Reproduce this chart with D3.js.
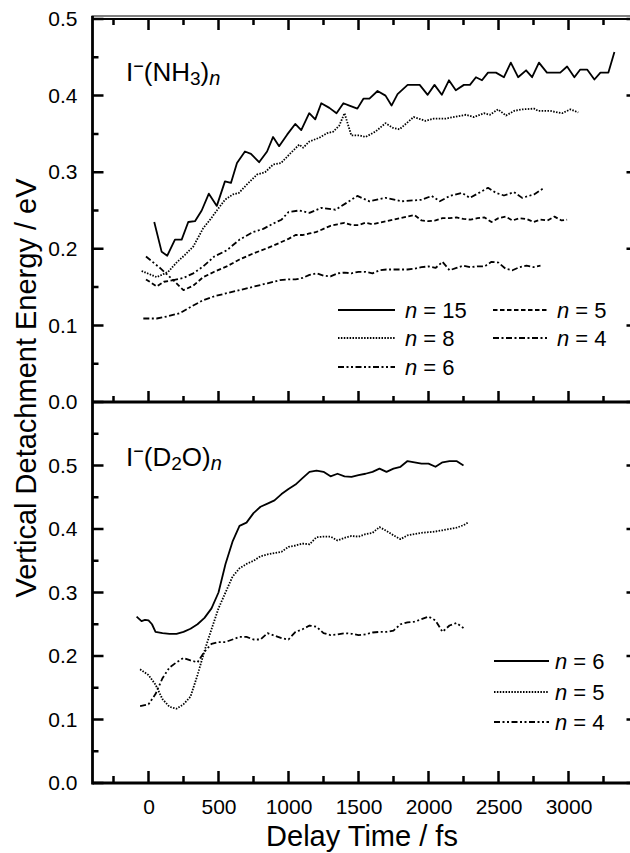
<!DOCTYPE html>
<html>
<head>
<meta charset="utf-8">
<script src="https://cdn.jsdelivr.net/npm/d3@7"></script>
<style>
  body { margin: 0; background: #fff; }
  svg { display: block; font-family: "Liberation Sans", Arial, sans-serif; }
</style>
</head>
<body>
<svg id="chart" width="630" height="853"></svg>
<script>
// ---- data: [delay time (fs), VDE (eV)] ----

// upper panel, I-(NH3)n
const nh3N15 = [[41,0.235],[94,0.196],[134,0.191],[189,0.212],[237,0.212],[284,0.235],[332,0.236],[380,0.25],[431,0.272],[488,0.256],[546,0.288],[589,0.286],[632,0.312],[689,0.327],[732,0.324],[790,0.313],[847,0.327],[890,0.346],[933,0.334],[990,0.349],[1048,0.363],[1091,0.355],[1148,0.377],[1191,0.369],[1234,0.39],[1292,0.384],[1343,0.377],[1392,0.39],[1435,0.387],[1492,0.383],[1535,0.396],[1578,0.396],[1636,0.406],[1693,0.4],[1736,0.387],[1779,0.402],[1851,0.414],[1937,0.414],[1994,0.401],[2043,0.414],[2095,0.401],[2146,0.42],[2195,0.407],[2253,0.414],[2296,0.414],[2339,0.424],[2382,0.42],[2425,0.43],[2482,0.43],[2539,0.424],[2588,0.443],[2640,0.424],[2697,0.433],[2740,0.424],[2789,0.443],[2846,0.43],[2941,0.43],[2990,0.438],[3042,0.424],[3084,0.434],[3133,0.434],[3185,0.421],[3228,0.43],[3285,0.43],[3328,0.457]];

const nh3N8 = [[-49,0.171],[59,0.163],[141,0.17],[200,0.182],[260,0.192],[320,0.203],[391,0.227],[440,0.238],[488,0.25],[546,0.264],[603,0.271],[646,0.273],[703,0.284],[775,0.297],[833,0.3],[890,0.31],[947,0.312],[1005,0.323],[1076,0.336],[1105,0.332],[1148,0.34],[1220,0.345],[1277,0.351],[1320,0.353],[1363,0.361],[1400,0.377],[1449,0.348],[1507,0.348],[1550,0.346],[1621,0.353],[1693,0.364],[1745,0.358],[1793,0.356],[1894,0.372],[1980,0.367],[2037,0.37],[2123,0.37],[2210,0.373],[2267,0.375],[2324,0.372],[2396,0.377],[2439,0.375],[2496,0.382],[2554,0.374],[2611,0.38],[2669,0.382],[2754,0.383],[2783,0.38],[2869,0.38],[2955,0.377],[3013,0.382],[3070,0.378]];

const nh3N6 = [[-18,0.19],[82,0.175],[177,0.159],[250,0.162],[320,0.168],[391,0.177],[470,0.19],[559,0.198],[650,0.212],[749,0.222],[820,0.226],[891,0.233],[950,0.238],[1000,0.248],[1076,0.25],[1150,0.247],[1234,0.2535],[1335,0.251],[1378,0.2557],[1492,0.269],[1578,0.262],[1693,0.2665],[1808,0.262],[1951,0.264],[2023,0.269],[2081,0.262],[2152,0.269],[2238,0.273],[2296,0.2665],[2425,0.2796],[2482,0.273],[2539,0.2696],[2611,0.274],[2669,0.2665],[2754,0.271],[2826,0.2796]];

const nh3N5 = [[-18,0.16],[59,0.151],[110,0.157],[177,0.159],[250,0.146],[320,0.152],[391,0.163],[470,0.17],[559,0.177],[650,0.186],[749,0.194],[850,0.201],[939,0.208],[1000,0.213],[1050,0.218],[1100,0.218],[1150,0.22],[1200,0.222],[1250,0.226],[1300,0.23],[1350,0.232],[1400,0.234],[1450,0.231],[1500,0.231],[1550,0.234],[1600,0.232],[1650,0.234],[1700,0.236],[1750,0.238],[1800,0.24],[1850,0.242],[1900,0.244],[1950,0.237],[2000,0.236],[2050,0.237],[2100,0.24],[2150,0.24],[2200,0.241],[2250,0.239],[2300,0.238],[2350,0.24],[2400,0.241],[2450,0.235],[2500,0.24],[2550,0.242],[2600,0.237],[2650,0.24],[2700,0.239],[2750,0.235],[2800,0.238],[2850,0.237],[2900,0.242],[2950,0.237],[2990,0.238]];

const nh3N4 = [[-37,0.109],[59,0.109],[140,0.112],[225,0.116],[310,0.125],[391,0.133],[470,0.138],[559,0.142],[650,0.146],[749,0.1505],[850,0.155],[939,0.159],[1000,0.16],[1050,0.16],[1100,0.162],[1150,0.166],[1200,0.168],[1250,0.165],[1300,0.164],[1350,0.168],[1400,0.169],[1450,0.168],[1500,0.17],[1550,0.17],[1600,0.168],[1650,0.172],[1700,0.173],[1750,0.173],[1800,0.173],[1850,0.173],[1900,0.174],[1950,0.176],[2000,0.177],[2050,0.175],[2100,0.183],[2150,0.172],[2200,0.175],[2250,0.178],[2300,0.176],[2350,0.177],[2400,0.177],[2450,0.183],[2500,0.182],[2550,0.174],[2600,0.172],[2650,0.176],[2700,0.178],[2750,0.176],[2800,0.178]];

// lower panel, I-(D2O)n
const d2oN6 = [[-85,0.262],[-50,0.255],[-25,0.257],[0,0.256],[25,0.25],[50,0.238],[100,0.236],[150,0.235],[200,0.235],[250,0.238],[300,0.243],[350,0.25],[400,0.26],[450,0.275],[500,0.3],[550,0.345],[600,0.38],[650,0.405],[700,0.41],[750,0.425],[800,0.435],[850,0.44],[900,0.445],[950,0.455],[1000,0.463],[1050,0.47],[1100,0.48],[1150,0.49],[1200,0.492],[1250,0.49],[1300,0.483],[1350,0.487],[1400,0.483],[1450,0.482],[1500,0.485],[1550,0.487],[1600,0.49],[1650,0.495],[1700,0.49],[1750,0.495],[1800,0.498],[1850,0.507],[1900,0.505],[1950,0.503],[2000,0.503],[2050,0.498],[2100,0.505],[2150,0.507],[2200,0.507],[2250,0.5]];

const d2oN5 = [[-60,0.179],[0,0.17],[50,0.155],[100,0.132],[150,0.12],[200,0.117],[250,0.124],[300,0.136],[350,0.17],[400,0.208],[450,0.242],[500,0.275],[550,0.3],[600,0.325],[650,0.338],[700,0.345],[750,0.35],[800,0.357],[850,0.36],[900,0.362],[950,0.364],[1000,0.372],[1050,0.374],[1100,0.377],[1150,0.376],[1200,0.387],[1250,0.388],[1300,0.388],[1350,0.382],[1400,0.386],[1450,0.389],[1500,0.388],[1550,0.392],[1600,0.394],[1650,0.403],[1700,0.397],[1750,0.39],[1800,0.384],[1850,0.39],[1900,0.392],[1950,0.394],[2000,0.395],[2050,0.396],[2100,0.398],[2150,0.4],[2200,0.402],[2250,0.406],[2280,0.41]];

const d2oN4 = [[-60,0.121],[0,0.124],[50,0.14],[100,0.165],[150,0.182],[200,0.19],[250,0.197],[300,0.193],[350,0.19],[400,0.207],[450,0.219],[500,0.222],[550,0.222],[600,0.226],[650,0.23],[700,0.23],[750,0.226],[800,0.226],[850,0.236],[900,0.232],[950,0.228],[1000,0.226],[1050,0.238],[1100,0.242],[1150,0.248],[1200,0.246],[1250,0.236],[1300,0.233],[1350,0.234],[1400,0.236],[1450,0.235],[1500,0.233],[1550,0.234],[1600,0.237],[1650,0.238],[1700,0.238],[1750,0.24],[1800,0.25],[1850,0.253],[1900,0.254],[1950,0.258],[2000,0.262],[2050,0.256],[2100,0.238],[2150,0.248],[2200,0.252],[2250,0.244]];

// ticks
const xMajorTicks = [0, 500, 1000, 1500, 2000, 2500, 3000, 3500];
const xMinorTicks = [-250, 250, 750, 1250, 1750, 2250, 2750, 3250];
const xTickLabels = [0, 500, 1000, 1500, 2000, 2500, 3000];
const yMajorTicks = [0, 0.1, 0.2, 0.3, 0.4, 0.5];
const yMinorTicks = [0.05, 0.15, 0.25, 0.35, 0.45, 0.55];

// legend entries: [series key, n]
const nh3Legend = [["n15", "15"], ["n8", "8"], ["n6", "6"], ["n5", "5"], ["n4", "4"]];
const d2oLegend = [["n6", "6"], ["n5", "5"], ["n4", "4"]];

// ---- layout ----
const svg = d3.select("#chart");
const plotLeft = 92.5, plotRight = 638.5;
const plotTop = 19, plotMid = 402, plotBottom = 783;

const x = d3.scaleLinear().domain([-400, 3500]).range([plotLeft, plotRight]);
const yTop = d3.scaleLinear().domain([0, 0.5]).range([plotMid, plotTop]);
const yBot = d3.scaleLinear().domain([0, 0.6]).range([plotBottom, plotMid]);

// line dash styles
const dash = {
  solid: null,
  dotted: "1.5,1.4",
  dashed: "4.5,2.5",
  dashDot: "6,2.5,2,2.5",
  dashDotDot: "6,2.5,2,2.5,2,2.5"
};
const nh3Style = { n15: dash.solid, n8: dash.dotted, n6: dash.dashDotDot, n5: dash.dashed, n4: dash.dashDot };
const d2oStyle = { n6: dash.solid, n5: dash.dotted, n4: dash.dashDotDot };
const nh3Data = { n15: nh3N15, n8: nh3N8, n6: nh3N6, n5: nh3N5, n4: nh3N4 };
const d2oData = { n6: d2oN6, n5: d2oN5, n4: d2oN4 };

// ---- tick labels (d3 axes, their own tick lines dropped) ----
function labelsOnly(g) {
  g.select(".domain").remove();
  g.selectAll(".tick line").remove();
  g.selectAll("text").attr("font-size", 21).attr("fill", "#000")
    .attr("font-family", "Liberation Sans, Arial, sans-serif");
}

svg.append("g").attr("transform", `translate(0,${plotBottom})`)
  .call(d3.axisBottom(x).tickValues(xTickLabels).tickSize(0).tickPadding(16).tickFormat(d3.format("d")))
  .call(labelsOnly);

[yTop, yBot].forEach(scale => {
  svg.append("g").attr("transform", `translate(${plotLeft},0)`)
    .call(d3.axisLeft(scale).tickValues(yMajorTicks).tickSize(0).tickPadding(15).tickFormat(d3.format(".1f")))
    .call(labelsOnly);
});

// ---- inward tick marks as paths, placed with the same scales ----
const ticks = svg.append("g");

function xTicks(values, yPos, len) {
  ticks.append("path")
    .attr("d", values.map(d => `M${x(d)},${yPos}V${yPos + len}`).join(""))
    .attr("fill", "none").attr("stroke", "#000").attr("stroke-width", 2.5);
}
function yTicks(values, scale, xPos, len) {
  ticks.append("path")
    .attr("d", values.map(d => `M${xPos},${scale(d)}H${xPos + len}`).join(""))
    .attr("fill", "none").attr("stroke", "#000").attr("stroke-width", 2.5);
}

xTicks(xMajorTicks, plotTop, 11);
xTicks(xMinorTicks, plotTop, 6);
xTicks(xMajorTicks, plotMid, -11);
xTicks(xMinorTicks, plotMid, -6);
xTicks(xMajorTicks, plotBottom, -12);
xTicks(xMinorTicks, plotBottom, -7);

yTicks(yMajorTicks, yTop, plotLeft, 11);
yTicks(yMinorTicks.filter(v => v < 0.5), yTop, plotLeft, 6);
yTicks(yMajorTicks, yBot, plotLeft, 11);
yTicks(yMinorTicks, yBot, plotLeft, 6);
yTicks(yMajorTicks, yTop, plotRight, -12);
yTicks(yMinorTicks.filter(v => v < 0.5), yTop, plotRight, -6);
yTicks(yMajorTicks, yBot, plotRight, -12);
yTicks(yMinorTicks, yBot, plotRight, -6);

// frame lines
const frame = svg.append("g").attr("stroke", "#000").attr("fill", "none");
frame.append("line").attr("x1", plotLeft - 1).attr("x2", 640).attr("y1", plotTop - 3).attr("y2", plotTop - 3).attr("stroke-width", 1);
frame.append("line").attr("x1", plotLeft).attr("x2", 640).attr("y1", plotTop).attr("y2", plotTop).attr("stroke-width", 2.2);
frame.append("line").attr("x1", plotLeft).attr("x2", 640).attr("y1", plotMid).attr("y2", plotMid).attr("stroke-width", 2.8);
frame.append("line").attr("x1", plotLeft).attr("x2", 640).attr("y1", plotBottom).attr("y2", plotBottom).attr("stroke-width", 2.8);
frame.append("line").attr("x1", plotLeft).attr("x2", plotLeft).attr("y1", plotTop - 3).attr("y2", plotBottom + 1.4).attr("stroke-width", 2.8);
frame.append("line").attr("x1", plotRight).attr("x2", plotRight).attr("y1", plotTop).attr("y2", plotBottom).attr("stroke-width", 2.8);

// ---- curves ----
function drawSeries(dataMap, styleMap, yScale) {
  const line = d3.line().x(d => x(d[0])).y(d => yScale(d[1]));
  Object.keys(dataMap).forEach(key => {
    svg.append("path")
      .datum(dataMap[key])
      .attr("d", line)
      .attr("fill", "none")
      .attr("stroke", "#000")
      .attr("stroke-width", 1.8)
      .attr("stroke-linejoin", "round")
      .attr("stroke-dasharray", styleMap[key]);
  });
}
drawSeries(nh3Data, nh3Style, yTop);
drawSeries(d2oData, d2oStyle, yBot);

// ---- legends ----
function legendRow(key, n, styleMap, lx1, lx2, tx, ly) {
  svg.append("line")
    .attr("x1", lx1).attr("x2", lx2).attr("y1", ly).attr("y2", ly)
    .attr("stroke", "#000")
    .attr("stroke-width", 1.8)
    .attr("stroke-dasharray", styleMap[key]);
  const t = svg.append("text").attr("x", tx).attr("y", ly + 8).attr("font-size", 22);
  t.append("tspan").attr("font-style", "italic").text("n");
  t.append("tspan").text(" = " + n);
}

const nh3Rows = [310, 338, 367];
nh3Legend.forEach(([key, n], i) => {
  const col = i < 3 ? 0 : 1;
  const row = i < 3 ? i : i - 3;
  if (col === 0) legendRow(key, n, nh3Style, 338, 395, 405, nh3Rows[row]);
  else legendRow(key, n, nh3Style, 493, 547, 557, nh3Rows[row]);
});

const d2oRows = [661, 692, 722];
d2oLegend.forEach(([key, n], i) => {
  legendRow(key, n, d2oStyle, 494, 549, 555, d2oRows[i]);
});

// ---- panel labels ----
function panelLabel(yPos, species, sub, tail) {
  const t = svg.append("text").attr("x", 126).attr("y", yPos).attr("font-size", 26);
  t.append("tspan").text("I");
  t.append("tspan").attr("font-size", 18).attr("dy", -9).text("\u2212");
  t.append("tspan").attr("font-size", 26).attr("dy", 9).text("(" + species);
  t.append("tspan").attr("font-size", 19).attr("dy", 4).text(sub);
  t.append("tspan").attr("font-size", 26).attr("dy", -4).text(tail + ")");
  t.append("tspan").attr("font-size", 20).attr("font-style", "italic").attr("dy", 4).text("n");
}
panelLabel(81, "NH", "3", "");
panelLabel(466, "D", "2", "O");

// ---- axis titles ----
svg.append("text")
  .attr("transform", `translate(36,388) rotate(-90)`)
  .attr("text-anchor", "middle")
  .attr("font-size", 29)
  .text("Vertical Detachment Energy / eV");

svg.append("text")
  .attr("x", 362).attr("y", 846)
  .attr("text-anchor", "middle")
  .attr("font-size", 29)
  .text("Delay Time / fs");
</script>
</body>
</html>
